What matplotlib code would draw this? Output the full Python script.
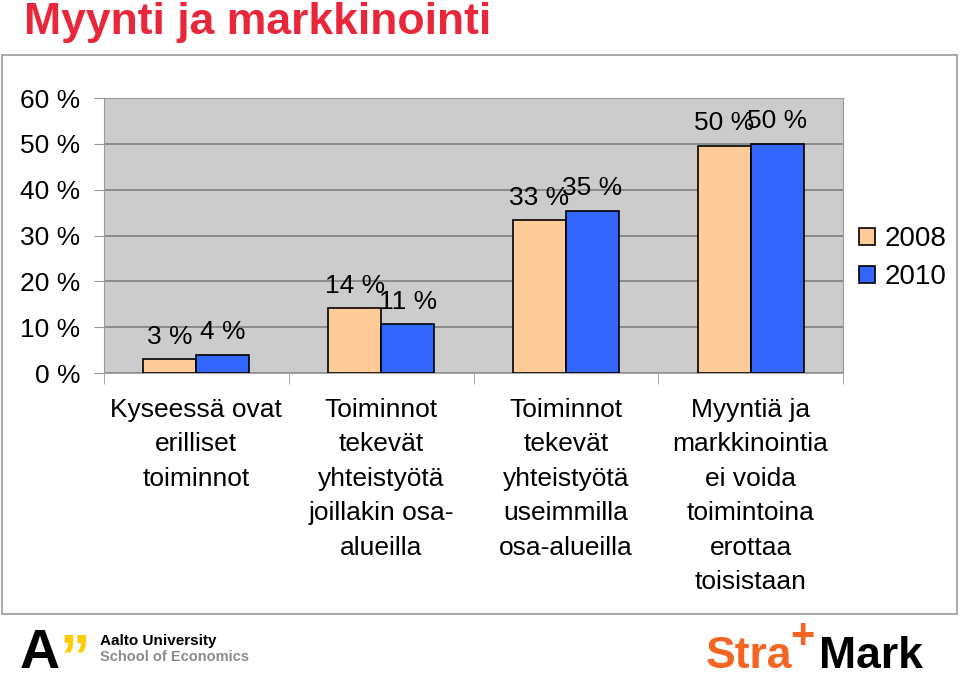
import numpy as np
import matplotlib.pyplot as plt
from matplotlib.patches import Rectangle

plt.rcParams['font.family'] = ['Liberation Sans', 'DejaVu Sans']

categories = [
    "Kyseessä ovat\nerilliset\ntoiminnot",
    "Toiminnot\ntekevät\nyhteistyötä\njoillakin osa-\nalueilla",
    "Toiminnot\ntekevät\nyhteistyötä\nuseimmilla\nosa-alueilla",
    "Myyntiä ja\nmarkkinointia\nei voida\ntoimintoina\nerottaa\ntoisistaan",
]
values_2008 = [3.0, 14.2, 33.4, 49.6]
values_2010 = [4.0, 10.7, 35.4, 50.0]
series_names = ["2008", "2010"]
yticks = [0, 10, 20, 30, 40, 50, 60]

col_2008 = "#FFCC99"
col_2010 = "#3366FF"

fig = plt.figure(figsize=(9.6, 6.79), dpi=100)

# outer chart frame
fig.patches.append(Rectangle((2 / 960, 1 - 614 / 679), 955 / 960, 559 / 679,
                             transform=fig.transFigure, fill=False,
                             edgecolor="#999999", lw=1.2))

fig.text(24 / 960, 1 - 34 / 679, "Myynti ja markkinointi", color="#E8283A",
         fontsize=32, fontweight="bold", va="baseline", ha="left")

ax = fig.add_axes([104 / 960, 1 - 373 / 679, 739 / 960, 275 / 679])
ax.set_facecolor("#CCCCCC")

x = np.arange(len(categories))
w = 0.287
b1 = ax.bar(x - w / 2, values_2008, w, color=col_2008, edgecolor="black",
            lw=1.2, label=series_names[0], zorder=3)
b2 = ax.bar(x + w / 2, values_2010, w, color=col_2010, edgecolor="black",
            lw=1.2, label=series_names[1], zorder=3)

for bars, vals in [(b1, values_2008), (b2, values_2010)]:
    for r, v in zip(bars, vals):
        ax.annotate(f"{v:.0f} %", (r.get_x() + r.get_width() / 2, v),
                    xytext=(0, 7.5), textcoords="offset points",
                    ha="center", va="bottom", fontsize=19, zorder=4)

ax.set_xlim(-0.5, len(categories) - 0.5)
ax.set_ylim(0, 60)
ax.set_yticks(yticks)
ax.set_yticklabels([f"{t} %" for t in yticks], fontsize=19)
ax.yaxis.grid(True, color="#808080", lw=1.2, zorder=1)
ax.set_axisbelow(True)

ax.set_xticks(x)
ax.set_xticklabels(categories, fontsize=19, linespacing=1.55)
ax.set_xticks(np.arange(len(categories) + 1) - 0.5, minor=True)
ax.tick_params(axis="x", which="major", length=0, pad=18)
ax.tick_params(axis="x", which="minor", length=8, color="#999999")
ax.tick_params(axis="y", length=7, pad=10, color="#999999")

for side in ["top", "right", "left"]:
    ax.spines[side].set_color("#999999")
ax.spines["bottom"].set_color("#AAAAAA")

fig.legend(handles=[b1, b2], labels=series_names, loc="upper left",
           bbox_to_anchor=(859 / 960, 1 - 226 / 679), frameon=False,
           fontsize=20, handlelength=0.57, handleheight=0.57,
           handletextpad=0.36, labelspacing=0.45, borderpad=0,
           borderaxespad=0)

# logos at the bottom
fig.text(20 / 960, 1 - 668 / 679, "A", fontsize=40, fontweight="bold",
         color="black", va="baseline", ha="left")
fig.text(60 / 960, 1 - 643 / 679, "\u201e", fontsize=44, fontweight="bold",
         color="#FFCC00", va="baseline", ha="left")
fig.text(100 / 960, 1 - 645 / 679, "Aalto University", fontsize=11,
         fontweight="bold", color="black", va="baseline", ha="left")
fig.text(100 / 960, 1 - 661 / 679, "School of Economics", fontsize=10.5,
         fontweight="bold", color="#8C8C8C", va="baseline", ha="left")

fig.text(706 / 960, 1 - 668 / 679, "Stra", fontsize=32, fontweight="bold",
         color="#F26522", va="baseline", ha="left")
fig.text(790 / 960, 1 - 648 / 679, "+", fontsize=30, fontweight="bold",
         color="#F26522", va="baseline", ha="left")
fig.text(819 / 960, 1 - 668 / 679, "Mark", fontsize=32, fontweight="bold",
         color="black", va="baseline", ha="left")

fig.savefig("out.png", dpi=100)
